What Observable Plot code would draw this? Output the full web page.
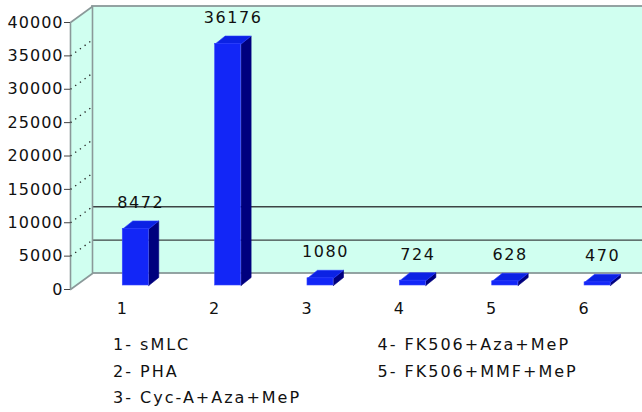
<!DOCTYPE html>
<html>
<head>
<meta charset="utf-8">
<script src="https://cdn.jsdelivr.net/npm/d3@7"></script>
<script src="https://cdn.jsdelivr.net/npm/@observablehq/plot@0.6"></script>
<style>
html, body { margin: 0; padding: 0; background: #fff; }
#chart { width: 642px; height: 412px; position: relative; overflow: hidden; font-family: "DejaVu Sans", sans-serif; color: #111; }
#chart svg { display: block; }
g[aria-label="text"] text { letter-spacing: 1.6px; }
g[aria-label="y-axis tick label"] text { letter-spacing: 1px; }
#legend { display: flex; padding: 12px 0 0 113px; font-size: 16px; line-height: 26.5px; letter-spacing: 2px; color: #111; }
#legend .col { width: 265px; }
</style>
</head>
<body>
<div id="chart"></div>
<script>
// ---- data ----
const categories = ["1", "2", "3", "4", "5", "6"];
const values = [8472, 36176, 1080, 724, 628, 470];
const yTicks = [0, 5000, 10000, 15000, 20000, 25000, 30000, 35000, 40000];
const backGridValues = [5000, 10000];
const legendLeft = ["1- sMLC", "2- PHA", "3- Cyc-A+Aza+MeP"];
const legendRight = ["4- FK506+Aza+MeP", "5- FK506+MMF+MeP"];

// ---- layout / style constants ----
const W = 642, H = 320, mL = 70, mR = 0, mT = 22, mB = 31;
const xDomain = [0.445, 6.638];
const yDomain = [0, 40000];
const kx = (W - mL - mR) / (xDomain[1] - xDomain[0]);
const ky = (H - mT - mB) / (yDomain[1] - yDomain[0]);
const px = p => p / kx;   // horizontal pixels -> x units
const py = p => p / ky;   // vertical pixels -> y units
const WALL_DX = 22, WALL_DY = 16;
const BAR_W = 26, BAR_DX = 10, BAR_DY = 8;
const BAR_SHIFT_X = 1, BAR_SHIFT_Y = -4;
const WALL_FILL = "#d0fff0", WALL_STROKE = "#8a9999";
const FRONT = "#1226f7", TOP = "#0b22e4", SIDE = "#00007e";

const bars = categories.map((c, i) => ({pos: i + 1, label: c, value: values[i]}));

const x0 = xDomain[0], yTop = yDomain[1];
const sideWall = [
  {x: x0, y: 0}, {x: x0, y: yTop},
  {x: x0 + px(WALL_DX), y: yTop + py(WALL_DY)},
  {x: x0 + px(WALL_DX), y: py(WALL_DY)},
  {x: x0, y: 0}
];
const backWall = [{x1: xDomain[0], x2: xDomain[1], y1: yDomain[0], y2: yDomain[1]}];

const sidePts = bars.flatMap(b => {
  const xr = b.pos + px(BAR_W);
  return [
    {id: b.label, x: xr, y: 0},
    {id: b.label, x: xr, y: b.value},
    {id: b.label, x: xr + px(BAR_DX), y: b.value + py(BAR_DY)},
    {id: b.label, x: xr + px(BAR_DX), y: py(BAR_DY)},
    {id: b.label, x: xr, y: 0}
  ];
});
const topPts = bars.flatMap(b => {
  const xl = b.pos, xr = b.pos + px(BAR_W);
  return [
    {id: b.label, x: xl, y: b.value},
    {id: b.label, x: xr, y: b.value},
    {id: b.label, x: xr + px(BAR_DX), y: b.value + py(BAR_DY)},
    {id: b.label, x: xl + px(BAR_DX), y: b.value + py(BAR_DY)},
    {id: b.label, x: xl, y: b.value}
  ];
});

const chart = Plot.plot({
  width: W, height: H,
  marginLeft: mL, marginRight: mR, marginTop: mT, marginBottom: mB,
  style: {fontFamily: '"DejaVu Sans", sans-serif', fontSize: "16px", background: "transparent", color: "#111", overflow: "visible"},
  x: {type: "linear", domain: xDomain},
  y: {type: "linear", domain: yDomain},
  marks: [
    // back wall
    Plot.rect(backWall, {x1: "x1", x2: "x2", y1: "y1", y2: "y2", dx: WALL_DX, dy: -WALL_DY,
      fill: WALL_FILL, stroke: WALL_STROKE, strokeWidth: 1.8}),
    Plot.ruleY(backGridValues, {x1: xDomain[0], x2: xDomain[1], dx: WALL_DX, dy: -WALL_DY,
      stroke: "#3c4444", strokeWidth: 1.4}),
    // side wall
    Plot.line(sideWall, {x: "x", y: "y", fill: WALL_FILL, stroke: WALL_STROKE, strokeWidth: 1.6, curve: "linear"}),
    Plot.link(yTicks.filter(t => t > yDomain[0] && t < yDomain[1]), {
      x1: x0, y1: d => d, x2: x0 + px(WALL_DX), y2: d => d + py(WALL_DY),
      stroke: "#222", strokeWidth: 1.3, strokeDasharray: "1.3,4.5"}),
    // axes
    Plot.axisY(yTicks, {tickSize: 6, tickPadding: 1, fontSize: 16, tickFormat: d => String(d), stroke: "#444", label: null}),
    Plot.axisX(bars.map(b => b.pos), {tickSize: 0, tickPadding: 13, fontSize: 16, tickFormat: i => categories[i - 1], label: null}),
    // bars
    Plot.line(sidePts, {x: "x", y: "y", z: "id", fill: SIDE, stroke: SIDE, strokeWidth: 0.6, dx: BAR_SHIFT_X, dy: BAR_SHIFT_Y}),
    Plot.line(topPts, {x: "x", y: "y", z: "id", fill: TOP, stroke: "#2a3cff", strokeWidth: 0.6, dx: BAR_SHIFT_X, dy: BAR_SHIFT_Y}),
    Plot.rect(bars, {x1: "pos", x2: d => d.pos + px(BAR_W), y1: 0, y2: "value",
      fill: FRONT, stroke: "#3848ff", strokeWidth: 0.6, dx: BAR_SHIFT_X, dy: BAR_SHIFT_Y}),
    // value labels
    Plot.text(bars, {x: "pos", y: "value", text: d => String(d.value), dx: 19, dy: -30, fontSize: 16, fill: "#111"})
  ]
});

const root = document.getElementById("chart");
root.appendChild(chart);
const legend = document.createElement("div");
legend.id = "legend";
for (const col of [legendLeft, legendRight]) {
  const c = document.createElement("div");
  c.className = "col";
  for (const t of col) {
    const d = document.createElement("div");
    d.textContent = t;
    c.appendChild(d);
  }
  legend.appendChild(c);
}
root.appendChild(legend);
</script>
</body>
</html>
